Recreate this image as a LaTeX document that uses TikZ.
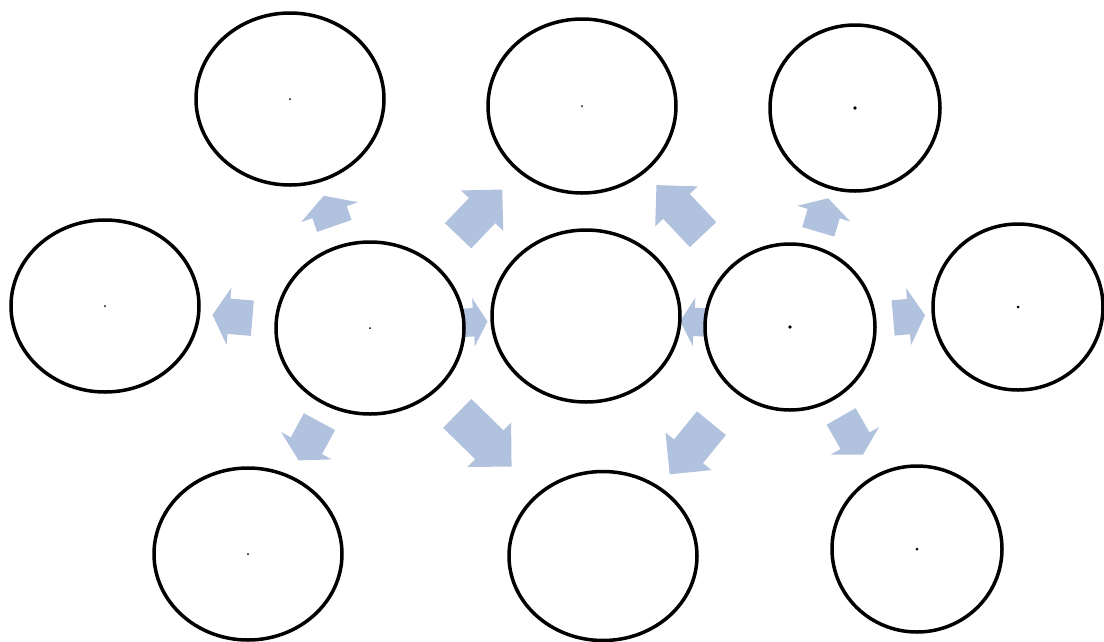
\documentclass[tikz,border=0pt]{standalone}
\usetikzlibrary{shapes.geometric,shapes.arrows,calc,backgrounds}
\definecolor{arrowblue}{RGB}{176,194,222}

\begin{document}
\begin{tikzpicture}[
  x=1pt, y=-1pt,
  bubble/.style={draw=black, line width=3.5pt, ellipse, fill=white, inner sep=0pt},
  bigbubble/.style={bubble, minimum width=188pt, minimum height=172pt},
  smallbubble/.style={bubble, minimum width=170pt, minimum height=166pt},
  fat/.style={single arrow, fill=arrowblue, draw=none, inner xsep=0pt, inner ysep=18pt, single arrow head extend=11pt, single arrow tip angle=90},
  stub/.style={fat, single arrow tip angle=120}
]
  \useasboundingbox (0,0) rectangle (1104,641);

  % hubs and centre
  \node[bigbubble] (hubL) at (370,328) {};
  \node[bigbubble] (ctr) at (586,316) {};
  \node[smallbubble] (hubR) at (790,327) {};

  % outer ring
  \node[bigbubble] (topL) at (290,99) {};
  \node[bigbubble, minimum height=174pt] (topC) at (582,106) {};
  \node[smallbubble] (topR) at (855,108) {};
  \node[bigbubble] (midL) at (105,306) {};
  \node[smallbubble] (midR) at (1018,307) {};
  \node[bigbubble] (botL) at (248,554) {};
  \node[bigbubble, minimum height=169pt] (botC) at (603,556) {};
  \node[smallbubble] (botR) at (917,549) {};

  \fill (topL.center) circle (1pt);
  \fill (topC.center) circle (1pt);
  \fill (topR.center) circle (1.8pt);
  \fill (midL.center) circle (1pt);
  \fill (hubL.center) circle (1pt);
  \fill (hubR.center) circle (1.8pt);
  \fill (midR.center) circle (1.5pt);
  \fill (botL.center) circle (1pt);
  \fill (botR.center) circle (1.5pt);

  \begin{pgfonlayer}{background}
    % left hub
    \path let \p1=($(topL)-(hubL)$), \n1={atan2(\y1,\x1)} in
      node[stub, minimum height=32pt, single arrow head extend=12pt, rotate=\n1] (aTopL) at ($(hubL)!0.49!(topL)$) {};
    \path let \p1=($(topC)-(hubL)$), \n1={atan2(\y1,\x1)} in
      node[fat, minimum height=64pt, rotate=\n1] (aTopCL) at ($(hubL)!0.49!(topC)$) {};
    \path let \p1=($(midL)-(hubL)$), \n1={atan2(\y1,\x1)} in
      node[stub, minimum height=40pt, inner ysep=17.5pt, rotate=\n1] (aMidL) at ($(hubL)!0.5!(midL)$) {};
    \path let \p1=($(botL)-(hubL)$), \n1={atan2(\y1,\x1)} in
      node[stub, minimum height=44pt, inner ysep=17.5pt, rotate=\n1] (aBotL) at ($(hubL)!0.48!(botL)$) {};
    \path let \p1=($(botC)-(hubL)$), \n1={atan2(\y1,\x1)} in
      node[fat, minimum height=76pt, inner ysep=20pt, rotate=\n1] (aBotCL) at ($(hubL)!0.46!(botC)$) {};
    \path let \p1=($(ctr)-(hubL)$), \n1={atan2(\y1,\x1)} in
      node[stub, minimum height=28pt, inner ysep=14pt, single arrow head extend=10pt, rotate=\n1] (aCtrL) at ($(hubL)!0.46!(ctr)$) {};

    % right hub
    \path let \p1=($(topC)-(hubR)$), \n1={atan2(\y1,\x1)} in
      node[fat, minimum height=68pt, rotate=\n1] (aTopCR) at ($(hubR)!0.5!(topC)$) {};
    \path let \p1=($(topR)-(hubR)$), \n1={atan2(\y1,\x1)} in
      node[stub, minimum height=35pt, inner ysep=16.5pt, rotate=\n1] (aTopR) at ($(hubR)!0.49!(topR)$) {};
    \path let \p1=($(midR)-(hubR)$), \n1={atan2(\y1,\x1)} in
      node[stub, minimum height=32pt, inner ysep=17.5pt, rotate=\n1] (aMidR) at ($(hubR)!0.5!(midR)$) {};
    \path let \p1=($(botR)-(hubR)$), \n1={atan2(\y1,\x1)} in
      node[stub, minimum height=44pt, inner ysep=16.5pt, rotate=\n1] (aBotR) at ($(hubR)!0.47!(botR)$) {};
    \path let \p1=($(botC)-(hubR)$), \n1={atan2(\y1,\x1)} in
      node[fat, minimum height=66pt, inner ysep=18.5pt, rotate=\n1] (aBotCR) at ($(hubR)!0.5!(botC)$) {};
    \path let \p1=($(ctr)-(hubR)$), \n1={atan2(\y1,\x1)} in
      node[stub, minimum height=28pt, inner ysep=14pt, single arrow head extend=10pt, rotate=\n1] (aCtrR) at ($(hubR)!0.45!(ctr)$) {};
  \end{pgfonlayer}
\end{tikzpicture}
\end{document}
